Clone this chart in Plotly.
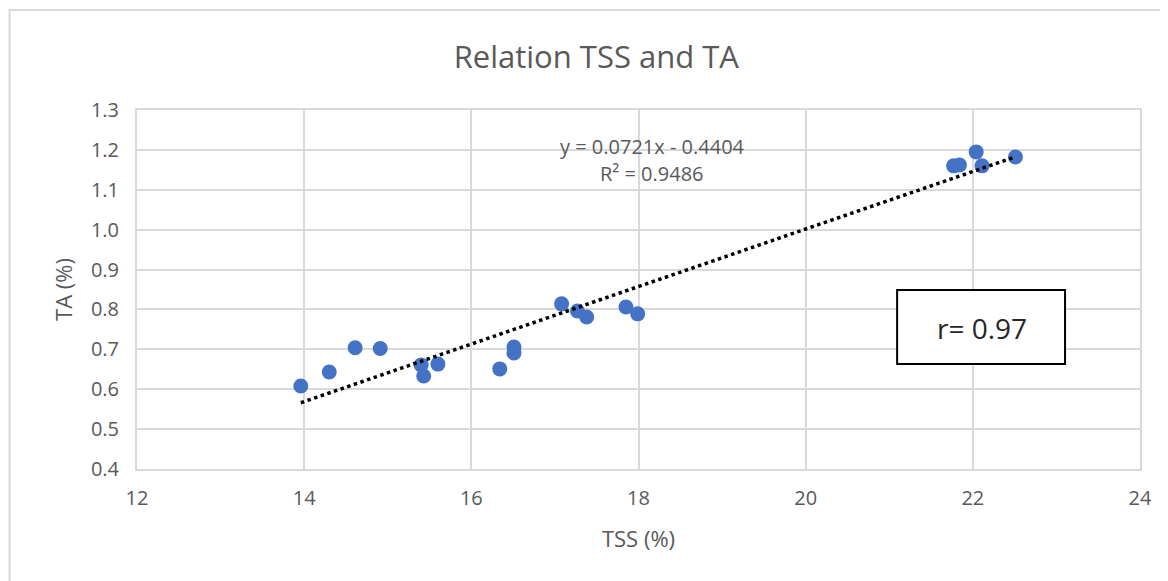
import plotly.graph_objects as go

# Data
tss = [13.96, 14.30, 14.61, 14.91, 15.40, 15.43, 15.60, 16.34, 16.51, 16.51,
       17.08, 17.27, 17.38, 17.85, 17.99, 21.77, 21.84, 22.04, 22.11, 22.51]
ta = [0.608, 0.643, 0.704, 0.702, 0.661, 0.633, 0.663, 0.651, 0.706, 0.691,
      0.814, 0.796, 0.781, 0.806, 0.789, 1.160, 1.162, 1.195, 1.160, 1.182]

slope = 0.0721
intercept = -0.4404
r2_text = "R² = 0.9486"
eq_text = "y = 0.0721x - 0.4404"
r_text = "r= 0.97"

x_ticks = [12, 14, 16, 18, 20, 22, 24]
y_ticks = [0.4, 0.5, 0.6, 0.7, 0.8, 0.9, 1.0, 1.1, 1.2, 1.3]

FONT = "'Open Sans', Lato, sans-serif"
GRAY = "#595959"
GRID = "#d9d9d9"

x_line = [min(tss), max(tss)]
y_line = [slope * v + intercept for v in x_line]

fig = go.Figure()
fig.add_trace(go.Scatter(
    x=tss, y=ta, mode="markers",
    marker=dict(color="#4472C4", size=15),
    showlegend=False, hoverinfo="x+y"))
fig.add_trace(go.Scatter(
    x=x_line, y=y_line, mode="lines",
    line=dict(color="black", width=3.5, dash="dot"),
    showlegend=False, hoverinfo="skip"))

# page offset (body margin)
OFF = 8
# Plot area in screen px: x 136.5-1140, y 110-469
L, R, T, B = 136.5 - OFF, 1140 - OFF, 110 - OFF, 469 - OFF
W, H = 1160, 573

def px_x(p):
    return (p - OFF - L) / (R - L)

def px_y(p):
    return (B - (p - OFF)) / (B - T)

shapes = [
    # outer chart border
    dict(type="rect", xref="paper", yref="paper",
         x0=px_x(9), x1=px_x(1200), y0=px_y(620), y1=px_y(10),
         line=dict(color="#d9d9d9", width=2), layer="below"),
    # r box
    dict(type="rect", xref="paper", yref="paper",
         x0=px_x(897), x1=px_x(1065), y0=px_y(364), y1=px_y(290),
         line=dict(color="black", width=2), fillcolor="white"),
]

annotations = [
    dict(text=eq_text, xref="paper", yref="paper", x=px_x(652), y=px_y(146),
         showarrow=False, font=dict(family=FONT, size=20, color=GRAY),
         xanchor="center", yanchor="middle"),
    dict(text=r2_text, xref="paper", yref="paper", x=px_x(652), y=px_y(173),
         showarrow=False, font=dict(family=FONT, size=20, color=GRAY),
         xanchor="center", yanchor="middle"),
    dict(text=r_text, xref="paper", yref="paper", x=px_x(982), y=px_y(328),
         showarrow=False, font=dict(family=FONT, size=28, color="#262626"),
         xanchor="center", yanchor="middle"),
]

fig.update_layout(
    width=W, height=H,
    margin=dict(l=L, r=W - R, t=T, b=H - B),
    paper_bgcolor="white", plot_bgcolor="white",
    title=dict(text="Relation TSS and TA", x=px_x(596), xanchor="center",
               xref="paper",
               y=1 - (57 - OFF) / H, yanchor="middle",
               font=dict(family=FONT, size=31, color=GRAY)),
    font=dict(family=FONT, color=GRAY),
    shapes=shapes, annotations=annotations,
    xaxis=dict(range=[12, 24], tickvals=x_ticks, showgrid=True,
               gridcolor=GRID, gridwidth=2, zeroline=False,
               showline=True, linecolor=GRID, linewidth=2, mirror=True,
               ticks="", tickfont=dict(size=20, color=GRAY), ticklabelstandoff=10,
               title=dict(text="TSS (%)", font=dict(size=22, color=GRAY),
                          standoff=22)),
    yaxis=dict(range=[0.4, 1.3], tickvals=y_ticks, tickformat=".1f",
               showgrid=True, gridcolor=GRID, gridwidth=2, zeroline=False,
               showline=True, linecolor=GRID, linewidth=2, mirror=True,
               ticks="", tickfont=dict(size=20, color=GRAY), ticklabelstandoff=12,
               title=dict(text="TA (%)", font=dict(size=22, color=GRAY),
                          standoff=12)),
)

fig.write_html("out.html")
